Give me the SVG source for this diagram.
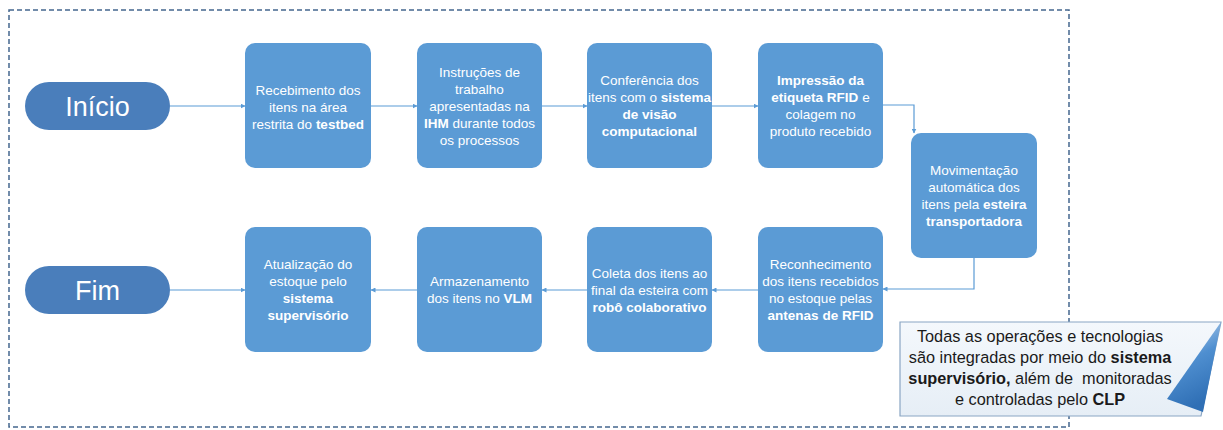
<svg xmlns="http://www.w3.org/2000/svg" width="1223" height="430" viewBox="0 0 1223 430">
<style>
.frame{fill:none;stroke:#44678f;stroke-width:1.5;stroke-dasharray:5 3}
.pill{fill:#4a7ebb}
.box{fill:#5b9bd5}
.pt{font-family:"Liberation Sans",Arial,sans-serif;font-size:27px;fill:#fff;text-anchor:middle}
.bt{font-family:"Liberation Sans",Arial,sans-serif;font-size:13.5px;fill:#fff;text-anchor:middle}
.b{font-weight:bold}
.con{fill:none;stroke:#5b9bd5;stroke-width:1.2;marker-end:url(#ah)}
.ct{font-family:"Liberation Sans",Arial,sans-serif;font-size:16.3px;fill:#1a1a1a;text-anchor:middle}
</style>
<defs>
<marker id="ah" viewBox="0 0 10 10" refX="9" refY="5" markerWidth="5" markerHeight="5" orient="auto" markerUnits="userSpaceOnUse">
<path d="M0,0 L10,5 L0,10 z" fill="#5b9bd5"/>
</marker>
<linearGradient id="cf" x1="0" y1="0" x2="0" y2="1">
<stop offset="0" stop-color="#f4f8fc"/>
<stop offset="1" stop-color="#e6eef6"/>
</linearGradient>
<linearGradient id="tri" x1="0" y1="0" x2="0.3" y2="1">
<stop offset="0" stop-color="#c9dcf0"/>
<stop offset="0.5" stop-color="#4f8fd0"/>
<stop offset="1" stop-color="#2f6fb5"/>
</linearGradient>
</defs>
<rect width="1223" height="430" fill="#fff"/>
<rect class="frame" x="9" y="10" width="1060" height="417"/>

<g id="connectors">
<path class="con" d="M170,106 H245"/>
<path class="con" d="M371,106 H417"/>
<path class="con" d="M542,106 H587"/>
<path class="con" d="M712,106 H758"/>
<path class="con" d="M883,105 H914 V133"/>
<path class="con" d="M974,258 V289 H883"/>
<path class="con" d="M758,290 H712"/>
<path class="con" d="M587,290 H542"/>
<path class="con" d="M417,290 H371"/>
<path class="con" d="M170,290 H245"/>
</g>

<g id="inicio">
<rect class="pill" x="25" y="82" width="145" height="48" rx="24"/>
<text class="pt" x="97.5" y="115.5">Início</text>
</g>
<g id="fim">
<rect class="pill" x="25" y="266" width="145" height="48" rx="24"/>
<text class="pt" x="97.5" y="299.5">Fim</text>
</g>

<g id="n1">
<rect class="box" x="245" y="43" width="126" height="125" rx="10"/>
<text class="bt" x="308" y="94.5">Recebimento dos</text>
<text class="bt" x="308" y="111.5">itens na área</text>
<text class="bt" x="308" y="128.5">restrita do <tspan class="b">testbed</tspan></text>
</g>
<g id="n2">
<rect class="box" x="417" y="43" width="125" height="125" rx="10"/>
<text class="bt" x="479.5" y="76.5">Instruções de</text>
<text class="bt" x="479.5" y="93.5">trabalho</text>
<text class="bt" x="479.5" y="110.5">apresentadas na</text>
<text class="bt" x="479.5" y="127.5"><tspan class="b">IHM</tspan> durante todos</text>
<text class="bt" x="479.5" y="144.5">os processos</text>
</g>
<g id="n3">
<rect class="box" x="587" y="43" width="125" height="125" rx="10"/>
<text class="bt" x="649.5" y="85">Conferência dos</text>
<text class="bt" x="649.5" y="102">itens com o <tspan class="b">sistema</tspan></text>
<text class="bt b" x="649.5" y="119">de visão</text>
<text class="bt b" x="649.5" y="136">computacional</text>
</g>
<g id="n4">
<rect class="box" x="758" y="43" width="125" height="125" rx="10"/>
<text class="bt b" x="820.5" y="85">Impressão da</text>
<text class="bt" x="820.5" y="102"><tspan class="b">etiqueta RFID</tspan> e</text>
<text class="bt" x="820.5" y="119">colagem no</text>
<text class="bt" x="820.5" y="136">produto recebido</text>
</g>
<g id="n5">
<rect class="box" x="911" y="133" width="126" height="125" rx="10"/>
<text class="bt" x="974" y="175">Movimentação</text>
<text class="bt" x="974" y="192">automática dos</text>
<text class="bt" x="974" y="209">itens pela <tspan class="b">esteira</tspan></text>
<text class="bt b" x="974" y="226">transportadora</text>
</g>
<g id="n6">
<rect class="box" x="758" y="227" width="125" height="125" rx="10"/>
<text class="bt" x="820.5" y="269">Reconhecimento</text>
<text class="bt" x="820.5" y="286">dos itens recebidos</text>
<text class="bt" x="820.5" y="303">no estoque pelas</text>
<text class="bt b" x="820.5" y="320">antenas de RFID</text>
</g>
<g id="n7">
<rect class="box" x="587" y="227" width="125" height="125" rx="10"/>
<text class="bt" x="649.5" y="277.5">Coleta dos itens ao</text>
<text class="bt" x="649.5" y="294.5">final da esteira com</text>
<text class="bt b" x="649.5" y="311.5">robô colaborativo</text>
</g>
<g id="n8">
<rect class="box" x="417" y="227" width="125" height="125" rx="10"/>
<text class="bt" x="479.5" y="286">Armazenamento</text>
<text class="bt" x="479.5" y="303">dos itens no <tspan class="b">VLM</tspan></text>
</g>
<g id="n9">
<rect class="box" x="245" y="227" width="126" height="125" rx="10"/>
<text class="bt" x="308" y="269">Atualização do</text>
<text class="bt" x="308" y="286">estoque pelo</text>
<text class="bt b" x="308" y="303">sistema</text>
<text class="bt b" x="308" y="320">supervisório</text>
</g>

<g id="callout">
<path d="M900,322 H1221 L1201,416 H900 Z" fill="url(#cf)" stroke="#8aa6c4" stroke-width="1.2"/>
<path d="M1221,322 L1167,399 L1203,412 Z" fill="url(#tri)"/>
<text class="ct" x="1040" y="342">Todas as operações e tecnologias</text>
<text class="ct" x="1040" y="363">são integradas por meio do <tspan class="b">sistema</tspan></text>
<text class="ct" x="1040" y="384" xml:space="preserve"><tspan class="b">supervisório,</tspan> além de  monitoradas</text>
<text class="ct" x="1040" y="405">e controladas pelo <tspan class="b">CLP</tspan></text>
</g>
</svg>
